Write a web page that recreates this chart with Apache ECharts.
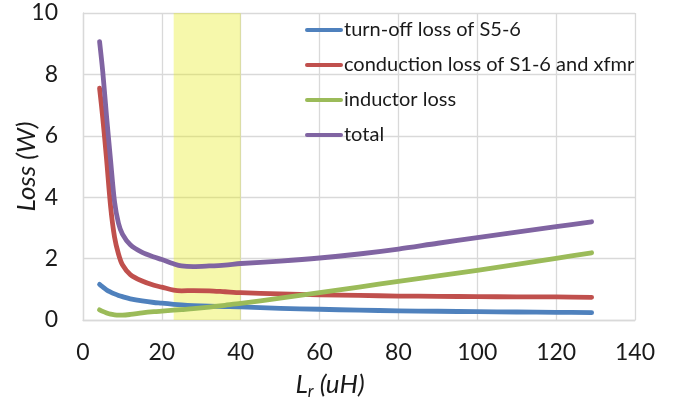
<!DOCTYPE html>
<html>
<head>
<meta charset="utf-8">
<script src="https://cdn.jsdelivr.net/npm/echarts@6/dist/echarts.min.js"></script>
<style>html,body{margin:0;padding:0;background:#fff}#c{width:676px;height:400px}</style>
</head>
<body>
<div id="c"></div>
<script>
var seriesNames = ['turn-off loss of S5-6', 'conduction loss of S1-6 and xfmr', 'inductor loss', 'total'];
var lr = [4.2, 5, 6, 7, 8, 9, 10, 12, 15, 18, 20, 23, 25, 28, 32, 36, 40, 50, 60, 70, 80, 90, 100, 110, 120, 129];
var turnOff = [1.16, 1.08, 0.98, 0.91, 0.85, 0.80, 0.76, 0.69, 0.62, 0.57, 0.55, 0.51, 0.49, 0.47, 0.45, 0.44, 0.43, 0.38, 0.35, 0.32, 0.30, 0.285, 0.27, 0.26, 0.25, 0.24];
var conduction = [7.55, 6.6, 5.2, 3.7, 2.7, 2.15, 1.8, 1.48, 1.27, 1.13, 1.07, 0.97, 0.95, 0.96, 0.95, 0.92, 0.89, 0.85, 0.82, 0.80, 0.78, 0.77, 0.76, 0.755, 0.75, 0.74];
var inductor = [0.33, 0.28, 0.23, 0.19, 0.17, 0.16, 0.16, 0.18, 0.23, 0.27, 0.29, 0.32, 0.34, 0.37, 0.42, 0.48, 0.54, 0.71, 0.89, 1.07, 1.26, 1.44, 1.62, 1.81, 2.01, 2.19];
var total = [9.07, 8.1, 6.6, 5.2, 3.85, 3.15, 2.8, 2.45, 2.2, 2.05, 1.97, 1.83, 1.76, 1.74, 1.76, 1.79, 1.84, 1.92, 2.02, 2.15, 2.31, 2.5, 2.68, 2.86, 3.04, 3.2];
var highlightRange = [23, 40];
var xTicks = {min: 0, max: 140, interval: 20};
var yTicks = {min: 0, max: 10, interval: 2};

var colors = ['#4F81BD', '#C0504D', '#9BBB59', '#8064A2'];
var values = [turnOff, conduction, inductor, total];
var FONT = 'Lato';

function zip(ys) { return lr.map(function (x, i) { return [x, ys[i]]; }); }

var series = values.map(function (ys, k) {
  return {
    name: seriesNames[k], type: 'line', data: zip(ys), showSymbol: false, symbol: 'none',
    smooth: 0.3, z: 2,
    lineStyle: {color: colors[k], width: 4.8, cap: 'round', join: 'round'},
    itemStyle: {color: colors[k]}
  };
});
series.push({
  name: 'band', type: 'line', data: [], z: 5, silent: true,
  markArea: {
    silent: true,
    itemStyle: {color: 'rgba(230,235,15,0.35)'},
    data: [[{xAxis: highlightRange[0], yAxis: yTicks.min}, {xAxis: highlightRange[1], yAxis: yTicks.max}]]
  }
});

var chart = echarts.init(document.getElementById('c'), null, {renderer: 'canvas'});
chart.setOption({
  animation: false,
  backgroundColor: '#fff',
  grid: {left: 83, right: 41, top: 13, bottom: 80, containLabel: false, outerBoundsMode: 'none'},
  legend: {
    data: seriesNames, orient: 'vertical', left: 305, top: 20,
    icon: 'path://M2,0H36A2,2 0 0 1 36,4H2A2,2 0 0 1 2,0Z',
    itemWidth: 38, itemHeight: 20, itemGap: 15, padding: 0,
    textStyle: {fontFamily: FONT, fontSize: 20, color: '#1a1a1a', lineHeight: 20, padding: [0, 0, 0, -4]}
  },
  xAxis: {
    type: 'value', min: xTicks.min, max: xTicks.max, interval: xTicks.interval,
    name: '{a|L}{b|r}{a| (uH)}', nameLocation: 'middle', nameGap: 50, nameMoveOverlap: false,
    nameTextStyle: {padding: [0, 58, 0, 0], rich: {
      a: {fontFamily: FONT, fontStyle: 'italic', fontSize: 26, color: '#1a1a1a'},
      b: {fontFamily: FONT, fontStyle: 'italic', fontSize: 17, color: '#1a1a1a', verticalAlign: 'bottom', padding: [13, 0, 0, 0]}
    }},
    axisLine: {show: true, lineStyle: {color: '#d9d9d9', width: 1.3}},
    axisTick: {show: false},
    axisLabel: {fontFamily: FONT, fontSize: 23, color: '#1a1a1a', margin: 21},
    splitLine: {show: true, lineStyle: {color: '#d9d9d9', width: 1.3}}
  },
  yAxis: {
    type: 'value', min: yTicks.min, max: yTicks.max, interval: yTicks.interval,
    name: 'Loss (W)', nameLocation: 'middle', nameGap: 43, nameMoveOverlap: false,
    nameTextStyle: {fontFamily: FONT, fontStyle: 'italic', fontSize: 26, color: '#1a1a1a'},
    axisLine: {show: true, lineStyle: {color: '#d9d9d9', width: 1.3}},
    axisTick: {show: false},
    axisLabel: {fontFamily: FONT, fontSize: 23, color: '#1a1a1a', margin: 25},
    splitLine: {show: true, lineStyle: {color: '#d9d9d9', width: 1.3}}
  },
  series: series
});
</script>
</body>
</html>
